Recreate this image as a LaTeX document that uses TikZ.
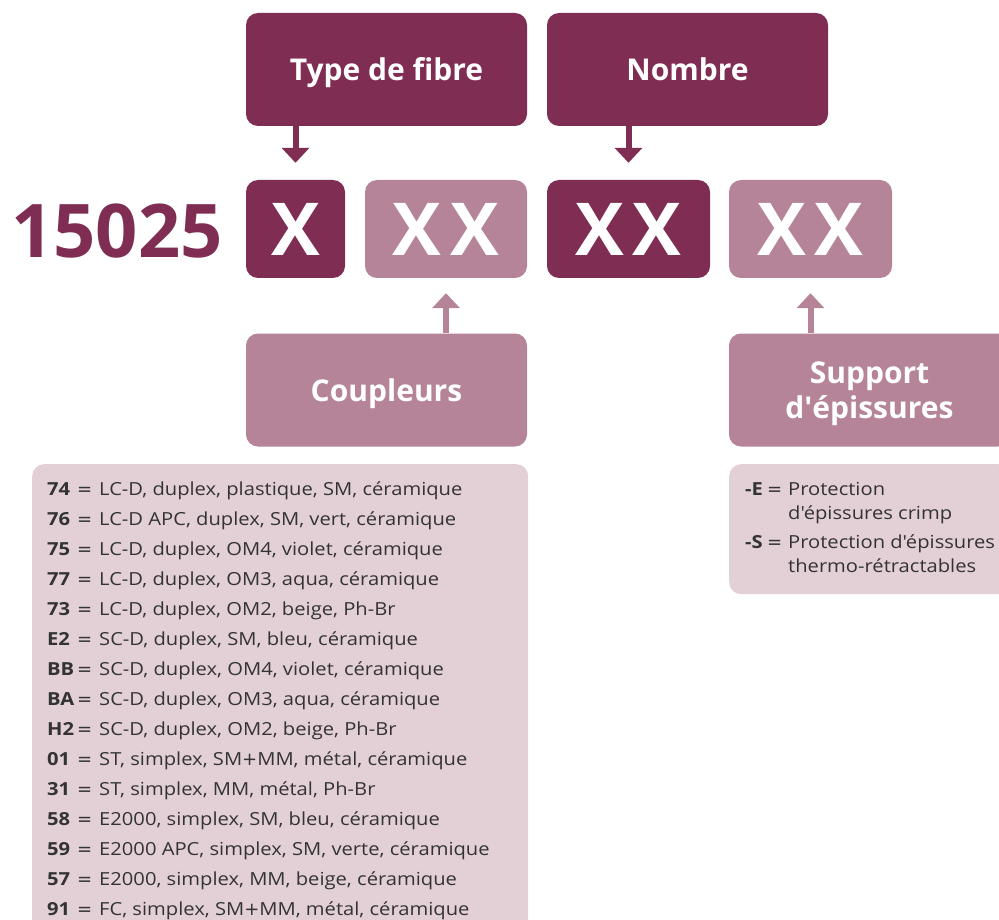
\documentclass[tikz,border=0pt]{standalone}
\usepackage{fontspec}
\setmainfont{Open Sans}
\newfontfamily\osq{Open Sans}
\newfontfamily\lstf{Open Sans}[FakeStretch=1.12]
\newfontfamily\djv{DejaVu Sans}
\newcommand\ap{{\osq'}}
\newcommand\eqs{{\djv =}}
\newcommand\pls{{\djv +}}
\usetikzlibrary{arrows.meta}
\definecolor{dk}{RGB}{127,45,82}
\definecolor{md}{RGB}{181,132,153}
\definecolor{lt}{RGB}{226,208,214}
\definecolor{tx}{RGB}{51,51,51}
\begin{document}
\begin{tikzpicture}[x=1pt,y=-1pt,
  hbox/.style={rounded corners=12pt, text=white, inner sep=0pt, align=center, text depth=0pt,
    font=\bfseries\fontsize{30}{35}\selectfont, minimum width=281pt, minimum height=113pt},
  dkhead/.style={hbox, fill=dk},
  mdhead/.style={hbox, fill=md},
  cbox/.style={rounded corners=12pt, text=white, inner sep=0pt,
    font=\bfseries\fontsize{73}{80}\selectfont, minimum height=98pt},
  listbox/.style={fill=lt, rounded corners=12pt, inner sep=0pt, anchor=north west},
  litem/.style={anchor=base west, inner sep=0pt, text=tx, font=\lstf\fontsize{18}{20}\selectfont},
  darrow/.style={draw=dk, line width=6pt, -{Triangle[width=27pt,length=15pt]}, shorten >=17pt},
  uarrow/.style={draw=md, line width=6pt, -{Triangle[width=27pt,length=15pt]}, shorten >=15pt}]
\useasboundingbox (0,0) rectangle (999,920);
\clip (0,0) rectangle (999,920);
\fill[white] (0,0) rectangle (999,920);

% header boxes
\node[dkhead] (type) at (386.5,69.5) {Type de fibre};
\node[dkhead] (nomb) at (687.5,69.5) {Nombre};

% code line
\node[anchor=base, inner sep=0pt, text=dk, font=\bfseries\fontsize{74}{80}\selectfont] (num) at (117,258) {15025};
\node[cbox, fill=dk, minimum width=99pt] (xb) at (295.5,229) {X};
\node[cbox, fill=md, minimum width=162pt] (cpc) at (446,229) {X\hspace{9pt}X};
\node[cbox, fill=dk, minimum width=163pt] (nbc) at (628.5,229) {X\hspace{9pt}X};
\node[cbox, fill=md, minimum width=163pt] (spc) at (810.5,229) {X\hspace{9pt}X};

% lower headers
\node[mdhead] (cpl) at (386.5,390) {Coupleurs};
\node[mdhead] (sup) at (869.5,390) {Support\\d\ap épissures};

% arrows
\draw[darrow] (type.south -| xb.north) -- (xb.north);
\draw[darrow] (nomb.south -| nbc.north) -- (nbc.north);
\draw[uarrow] (cpl.north -| cpc.south) -- (cpc.south);
\draw[uarrow] (sup.north -| spc.south) -- (spc.south);

% list boxes
\node[listbox, minimum width=496pt, minimum height=480pt] (lst) at (32,464) {};
\node[listbox, minimum width=281pt, minimum height=130pt] (rlst) at (729,464) {};

\foreach \c/\t [count=\i] in {
  74/{LC-D, duplex, plastique, SM, céramique},
  76/{LC-D APC, duplex, SM, vert, céramique},
  75/{LC-D, duplex, OM4, violet, céramique},
  77/{LC-D, duplex, OM3, aqua, céramique},
  73/{LC-D, duplex, OM2, beige, Ph-Br},
  E2/{SC-D, duplex, SM, bleu, céramique},
  BB/{SC-D, duplex, OM4, violet, céramique},
  BA/{SC-D, duplex, OM3, aqua, céramique},
  H2/{SC-D, duplex, OM2, beige, Ph-Br},
  01/{ST, simplex, SM\pls MM, métal, céramique},
  31/{ST, simplex, MM, métal, Ph-Br},
  58/{E2000, simplex, SM, bleu, céramique},
  59/{E2000 APC, simplex, SM, verte, céramique},
  57/{E2000, simplex, MM, beige, céramique},
  91/{FC, simplex, SM\pls MM, métal, céramique}}
  \node[litem] (l\i) at (47,{495+30*(\i-1)})
    {\makebox[30pt][l]{\textbf{\c}}\makebox[22pt][l]{\eqs}\t};

\node[litem] (r1) at (745,495) {\makebox[22pt][l]{\textbf{-E}}\makebox[21pt][l]{\eqs}Protection};
\node[litem] (r2) at (788,519) {d'épissures crimp};
\node[litem] (r3) at (745,548) {\makebox[22pt][l]{\textbf{-S}}\makebox[21pt][l]{\eqs}Protection d'épissures};
\node[litem] (r4) at (788,572) {thermo-rétractables};
\end{tikzpicture}
\end{document}
